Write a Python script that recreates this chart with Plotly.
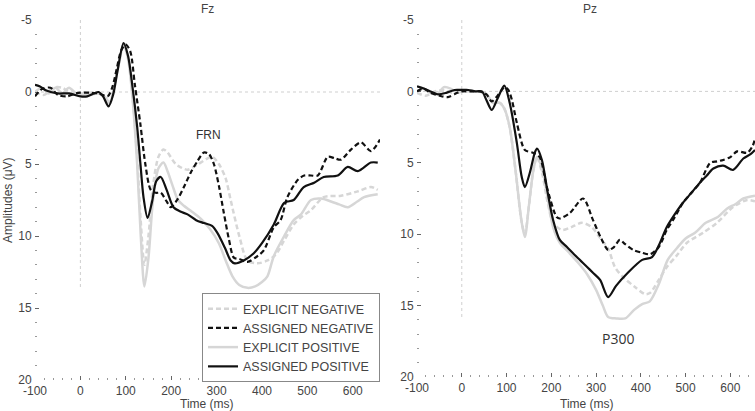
import plotly.graph_objects as go

# ---------------- Fz data ----------------
t_fz_ap = [-100,-90,-75,-50,-25,0,15,30,40,50,62,72,82,95,105,115,125,132,139,148,158,167,177,190,205,220,236,255,272,290,302,318,331,340,360,382,400,426,449,470,492,515,536,567,589,611,640,655]
v_fz_ap = [-0.5,-0.4,-0.1,0.1,0.1,0.3,0.3,0.1,0.0,0.3,1.0,0.2,-1.5,-3.4,-2.5,-0.3,2.4,4.9,7.3,8.75,7.6,6.2,5.9,6.8,8.0,8.3,8.5,8.9,9.1,9.3,9.8,10.8,11.7,11.9,11.7,11.2,10.5,9.2,7.7,7.5,6.6,6.3,5.9,5.8,5.2,5.5,4.9,4.9]

t_fz_an = [-100,-85,-66,-50,-30,-10,0,20,40,60,70,80,90,100,110,120,132,143,155,166,177,190,199,213,228,243,258,272,283,294,305,316,327,338,350,368,390,404,426,441,456,479,493,508,523,545,560,574,596,618,640,660]
v_fz_an = [0.3,-0.2,-0.3,0.2,0.3,0.1,0.05,0.05,0.1,0.3,-0.3,-1.6,-2.9,-3.3,-2.8,-0.5,2.2,5.0,6.8,7.0,7.0,7.6,8.0,7.5,6.6,5.6,4.8,4.2,4.3,5.0,6.5,8.4,10.2,11.5,11.6,11.8,11.4,11.0,9.4,8.9,7.3,6.1,5.8,5.8,5.8,4.5,4.6,4.7,4.0,3.5,4.1,3.3]

t_fz_ep = [-100,-85,-70,-55,-40,-25,-10,0,20,40,55,65,75,85,95,105,115,125,133,141,150,160,172,183,192,203,215,228,245,265,285,305,320,335,350,368,385,400,412,426,449,470,486,508,530,552,570,589,610,625,655]
v_fz_ep = [0.0,-0.3,0.1,-0.3,0.1,-0.3,0.1,0.2,0.2,0.1,0.4,0.8,-0.5,-2.0,-3.3,-2.3,0.5,5.0,10.0,13.5,11.5,7.5,5.3,4.9,5.5,6.5,7.5,7.9,8.3,8.8,9.5,10.5,11.7,12.8,13.4,13.6,13.5,13.2,12.8,11.4,10.0,8.9,8.5,7.5,7.4,7.6,7.8,8.0,7.6,7.3,7.1]

t_fz_en = [-100,-80,-60,-40,-20,0,20,40,55,65,75,85,95,105,115,125,133,141,150,160,172,183,192,210,236,260,290,305,320,331,350,368,390,412,430,449,470,490,508,536,574,611,640,655]
v_fz_en = [0.0,0.2,-0.3,-0.3,0.1,0.1,0.1,0.1,0.4,0.7,-0.5,-2.0,-3.3,-2.5,0.3,4.5,9.0,12.0,10.0,6.5,4.5,4.0,4.2,5.0,5.4,5.0,4.5,5.0,6.0,7.5,10.0,11.7,11.9,11.7,11.3,10.3,9.2,8.6,8.2,7.3,7.2,6.9,6.6,6.8]

# ---------------- Pz data ----------------
t_pz_ap = [-100,-85,-70,-54,-35,-16,0,15,30,45,55,67,80,95,107,123,134,141,152,163,168,179,192,204,219,235,257,280,293,309,327,345,371,403,425,440,458,476,494,513,532,547,562,584,606,629,645,655]
v_pz_ap = [-0.35,-0.2,0.0,0.2,0.1,-0.1,-0.1,-0.1,0.0,0.0,0.6,1.3,0.5,-0.4,0.8,3.6,6.0,6.7,5.7,4.3,4.0,4.8,7.1,9.0,10.4,10.9,11.6,12.3,12.7,13.2,14.4,13.6,12.7,11.8,11.6,10.8,9.5,8.6,7.8,7.1,6.4,5.9,5.4,5.2,5.5,4.7,4.4,4.1]

t_pz_an = [-100,-85,-70,-50,-31,-10,0,20,40,55,67,80,96,104,112,123,141,159,174,190,212,219,242,271,293,310,327,340,353,365,383,403,421,440,458,476,494,513,532,555,570,584,600,615,638,650,655]
v_pz_an = [0.0,-0.2,0.1,0.3,0.4,0.1,0.0,0.0,0.0,0.2,0.7,0.3,-0.3,-0.1,0.6,2.2,4.1,4.3,4.6,6.7,8.8,8.9,8.5,7.5,9.0,10.2,11.1,10.9,10.4,10.7,11.1,11.3,11.4,10.9,9.7,8.8,7.8,7.1,6.4,5.0,4.9,4.8,4.6,4.2,4.3,3.8,3.3]

t_pz_ep = [-100,-85,-70,-55,-40,-25,-10,0,20,40,55,70,85,95,107,120,133,141,150,160,168,180,192,204,219,240,260,280,300,315,327,345,365,385,403,420,440,460,480,500,521,545,572,593,611,629,655]
v_pz_ep = [0.0,-0.2,0.1,0.2,-0.3,-0.2,0.1,0.0,0.0,0.0,0.2,0.8,0.8,1.2,2.5,5.5,9.0,10.2,8.0,5.5,4.6,5.5,7.5,9.5,10.6,11.3,12.0,12.8,13.9,15.0,15.8,15.9,15.9,15.3,14.9,14.7,13.5,11.8,11.0,10.3,9.9,9.2,8.8,8.2,7.9,7.5,7.3]

t_pz_en = [-100,-80,-60,-40,-20,0,20,40,55,70,85,95,107,120,133,141,150,160,168,180,192,204,224,245,268,290,310,327,342,360,387,410,421,440,458,480,503,539,570,606,638,655]
v_pz_en = [0.1,0.3,0.0,-0.1,0.1,0.0,0.0,0.0,0.2,0.8,0.8,1.2,2.5,5.5,9.0,10.0,8.0,5.5,4.6,5.8,7.8,9.2,9.7,9.5,9.2,9.5,10.3,11.0,12.3,13.0,13.7,14.2,14.1,13.2,12.3,11.5,10.6,9.9,9.2,8.1,7.6,7.7]

series_names = ["EXPLICIT NEGATIVE", "ASSIGNED NEGATIVE", "EXPLICIT POSITIVE", "ASSIGNED POSITIVE"]
y_ticks = [-5, 0, 5, 10, 15, 20]
y_tick_labels = ["-5", "0", "5", "10", "15", "20"]
x_ticks = [-100, 0, 100, 200, 300, 400, 500, 600]
x_tick_labels = ["-100", "0", "100", "200", "300", "400", "500", "600"]

GRAY = "#d6d6d6"
BLACK = "#111111"
styles = {
    "EXPLICIT NEGATIVE": dict(color=GRAY, width=2.5, dash="5px,3px"),
    "ASSIGNED NEGATIVE": dict(color=BLACK, width=2.2, dash="5px,3px"),
    "EXPLICIT POSITIVE": dict(color=GRAY, width=2.5, dash="solid"),
    "ASSIGNED POSITIVE": dict(color=BLACK, width=2.2, dash="solid"),
}

panels = [
    ("x", "y", {"EXPLICIT NEGATIVE": (t_fz_en, v_fz_en), "ASSIGNED NEGATIVE": (t_fz_an, v_fz_an),
                "EXPLICIT POSITIVE": (t_fz_ep, v_fz_ep), "ASSIGNED POSITIVE": (t_fz_ap, v_fz_ap)}, True),
    ("x2", "y2", {"EXPLICIT NEGATIVE": (t_pz_en, v_pz_en), "ASSIGNED NEGATIVE": (t_pz_an, v_pz_an),
                  "EXPLICIT POSITIVE": (t_pz_ep, v_pz_ep), "ASSIGNED POSITIVE": (t_pz_ap, v_pz_ap)}, False),
]

fig = go.Figure()
for xa, ya, data, show in panels:
    for name in series_names:
        t, v = data[name]
        st = styles[name]
        fig.add_trace(go.Scatter(
            x=t, y=v, mode="lines", name=name, xaxis=xa, yaxis=ya,
            line=dict(color=st["color"], width=st["width"], dash=st["dash"], shape="spline", smoothing=0.8),
            showlegend=show, zorder=1 if st["color"] == BLACK else 0, hoverinfo="skip"))

FONT = "Liberation Sans, Arial, sans-serif"
TXT = "#444444"

axis_common = dict(
    showgrid=False, zeroline=False, showline=True, linecolor="#666666", linewidth=1,
    ticks="inside", ticklen=4, tickcolor="#666666", automargin=False,
    tickfont=dict(family=FONT, size=12, color=TXT),
)
x_minor = dict(ticks="inside", ticklen=2, dtick=20, tickcolor="#999999")
y_minor = dict(ticks="inside", ticklen=2, dtick=1, tickcolor="#999999")

fig.update_layout(
    width=755, height=411,
    margin=dict(l=0, r=0, t=0, b=0, autoexpand=False),
    paper_bgcolor="white", plot_bgcolor="white",
    showlegend=True,
    legend=dict(x=380/755, xanchor="right", y=1-293/411, yanchor="top",
                bgcolor="white", bordercolor="#888888", borderwidth=1,
                font=dict(family=FONT, size=12.5, color=TXT), tracegroupgap=0,
                itemwidth=30),
    xaxis=dict(domain=[35/755, 380/755], range=[-100, 660], tickvals=x_ticks, ticktext=x_tick_labels,
               anchor="y", minor=x_minor, **axis_common),
    yaxis=dict(domain=[1-380/411, 1-20/411], range=[20, -5], tickvals=y_ticks, ticktext=y_tick_labels,
               anchor="x", minor=y_minor, **axis_common),
    xaxis2=dict(domain=[417/755, 1.0], range=[-100, 655], tickvals=x_ticks, ticktext=x_tick_labels,
                anchor="y2", minor=x_minor, **axis_common),
    yaxis2=dict(domain=[1-377/411, 1-20/411], range=[20, -5], tickvals=y_ticks, ticktext=y_tick_labels,
                anchor="x2", minor=y_minor, **axis_common),
)

# reference lines (dotted)
for xr, yr, xend, ybot in [("x", "y", 660, 13.7), ("x2", "y2", 655, 15.8)]:
    fig.add_shape(type="line", xref=xr, yref=yr, x0=-100, x1=xend, y0=0, y1=0,
                  line=dict(color="#cfcfcf", width=1, dash="dot"), layer="below")
    fig.add_shape(type="line", xref=xr, yref=yr, x0=0, x1=0, y0=-5, y1=ybot,
                  line=dict(color="#cfcfcf", width=1, dash="dot"), layer="below")

def paper_text(text, px, py, angle=0, size=12):
    fig.add_annotation(text=text, x=px/755, y=1-py/411, xref="paper", yref="paper",
                       xanchor="center", yanchor="middle", textangle=angle, showarrow=False,
                       font=dict(family=FONT, size=size, color=TXT))

# titles and axis titles
paper_text("Fz", 207, 9)
paper_text("Pz", 590, 9)
paper_text("Time (ms)", 207, 404)
paper_text("Time (ms)", 587, 404)
paper_text("Amplitudes (μV)", 8, 200, angle=-90)

# component labels
fig.add_annotation(text="FRN", x=283, y=3.0, xref="x", yref="y", showarrow=False,
                   xanchor="center", yanchor="middle",
                   font=dict(family=FONT, size=12, color="#333333"))
fig.add_annotation(text="P300", x=349, y=17.3, xref="x2", yref="y2", showarrow=False,
                   xanchor="center", yanchor="middle",
                   font=dict(family="Open Sans, sans-serif", size=14, color="#333333"))

fig.write_html("out.html", config={"displayModeBar": False},
               post_script="document.body.style.margin='0';document.body.style.overflow='hidden';")
